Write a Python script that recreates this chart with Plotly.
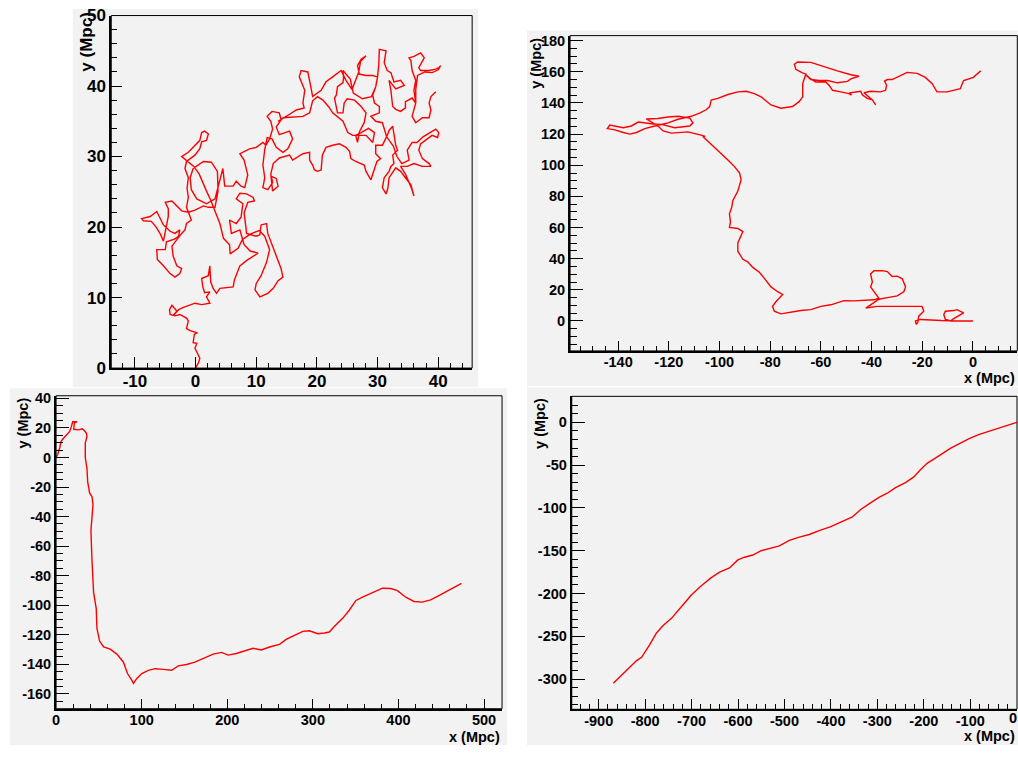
import plotly.graph_objects as go

# ---------------- DATA (Mpc) ----------------
# Panel 1 (top-left): tangled walk
p1_x = [0, 0.5, 0.7, 0.2, -0.1, 0.2, -0.4, -0.2, 0.3, -0.1, -0.9, -1.5, -1.2, -1.5, -2.6, -3.4, -4.2, -4.3, -3.9, -3.1, -3.7, -2.8, -2.0, -1.2, -0.1, 1.0, 2.35, 1.8, 2.35, 1.5, 1.2, 1.0, 2.1, 2.35, 2.5, 2.9, 3.45, 4.0, 5.1, 6.2, 6.4, 7.3, 8.5, 10.3,
        9.0, 8.0, 7.6, 7.3, 5.9, 5.6, 6.7, 7.5, 7.8, 6.7, 7.3, 8.4, 9.5, 9.7, 8.6, 8.0, 8.3, 8.4, 10.0, 10.6, 10.8, 11.7, 11.9, 12.5, 13.3, 14.1, 14.4, 13.6, 12.8, 11.9, 10.6, 9.8, 10.0, 10.8, 11.7, 12.2, 11.4, 10.5, 9.0, 7.7, 7.0, 5.7, 5.6, 4.6,
        4.0, 3.2, 2.5, 1.8, 0.6, -0.3, -1.5, -2.3, -1.2, -0.1, 0.7, 1.0, 1.5, 2.1, 1.8, 1.0, 0.7, -0.1, -1.5, -1.75, -1.2, -1.4, -1.2, -1.5, -0.7, -1.5, -1.75, -2.3, -3.1, -3.9, -3.7, -3.1, -2.3, -2.6, -3.4, -4.2, -5.3, -6.3, -6.4, -5.0, -4.8, -3.5, -2.8, -2.6, -3.4, -4.2, -5.3, -6.0, -6.4, -7.5, -8.9, -8.6, -7.3, -6.5, -5.8, -5.3, -5.0, -4.5, -4.5, -5.0, -3.9, -3.1, -2.3, -1.2, -0.1, 1.3, 2.1, 3.2, 3.7, 3.6, 2.6, 1.3, -0.4, -0.9, -0.7, 0.2, 1.8, 3.2, 3.9, 4.5, 4.8, 6.2, 6.7, 7.5, 8.1, 8.6, 8.0, 7.3,
        8.9, 10.0, 11.1, 11.6, 12.2, 12.7, 12.4, 11.8, 12.6, 13.8, 14.1, 13.3, 13.8, 15.5, 16.0, 15.2, 14.4, 13.3, 12.6, 11.8, 11.4, 11.1, 11.4, 11.1, 11.9, 12.7, 12.5, 13.3, 13.6, 12.7, 12.4, 12.8, 13.8, 15.5, 16.0, 17.7, 18.8, 18.8, 19.3, 19.6, 20.1, 20.7, 20.9, 21.5, 22.6, 23.7, 24.8, 25.4,
        25.6, 26.4, 27.8, 28.1, 28.9, 29.3, 29.9, 30.5, 29.7, 29.7, 30.8, 31.6, 31.9, 32.5, 33.0, 33.3, 32.5, 32.7, 32.2, 31.9, 31.1, 30.8, 31.4, 31.7, 31.9, 33.0, 33.8, 34.6, 35.5, 36.0, 35.6, 34.6, 33.8, 34.9, 36.0, 37.4, 38.8, 38.5, 37.4, 36.8, 37.1, 38.2, 39.0, 39.9, 40.1, 39.6, 38.9, 37.5, 36.5, 35.7, 34.9, 35.2, 34.0, 33.2, 32.6, 31.5, 30.8, 29.7, 28.9, 30.3, 30.3, 29.5, 29.2, 29.7, 30.0, 29.2, 28.1, 27.0, 26.7, 27.3, 28.1, 27.2, 26.9, 26.4, 25.8, 24.8, 24.0, 22.6, 21.5, 20.7, 19.3, 19.0, 18.5, 17.4, 17.1, 18.0, 17.7, 17.9, 17.4, 16.6, 15.5, 13.6, 14.5, 17.7, 18.8, 19.3, 20.1, 21.0, 22.0, 22.6, 24.3, 25.1, 25.9, 28.1, 29.2, 29.5, 28.5, 27.3, 26.4, 26.7, 27.0, 27.8, 28.1, 27.3, 26.2, 25.0, 24.5, 24.3, 23.4, 22.9, 23.2, 23.4, 24.3, 24.4, 24.3, 25.5, 26.0, 27.5, 29.0, 29.7, 30.0, 30.2, 30.3, 31.4, 31.1, 31.6, 32.2, 32.7, 33.8, 34.4, 33.0, 31.9, 32.2, 32.5, 33.0, 33.8, 34.6, 34.6, 35.7, 36.3, 36.0, 36.3, 35.7, 35.5, 35.2, 36.0, 37.1, 37.7, 37.1, 36.8, 37.1, 38.5, 39.6, 40.1, 40.4, 40.0, 39.0, 37.8, 36.6, 36.3, 36.3, 35.7, 36.3, 37.4, 38.5, 38.8, 38.5, 38.8, 39.6]
p1_y = [0, 0.8, 1.4, 2.3, 2.8, 3.5, 3.6, 4.8, 5.0, 5.1, 5.3, 5.6, 6.7, 7.1, 7.6, 7.4, 7.6, 8.3, 8.9, 8.1, 7.4, 8.3, 8.6, 8.9, 9.2, 9.0, 9.2, 10.1, 10.8, 10.7, 11.5, 12.7, 13.1, 14.5, 12.2, 11.3, 10.6, 11.3, 11.4, 11.5, 12.5, 14.5, 15.3, 16.3,
        16.6, 17.5, 18.7, 19.6, 19.1, 21.0, 20.5, 21.4, 23.3, 24.0, 24.8, 24.7, 24.2, 23.7, 23.5, 22.0, 20.0, 19.1, 18.7, 18.9, 20.3, 20.5, 19.1, 17.7, 15.9, 14.1, 12.9, 12.4, 11.3, 10.6, 10.1, 11.1, 12.0, 13.1, 15.0, 16.8, 18.7, 19.5, 19.0, 18.2, 17.0, 16.2, 17.5, 18.4,
        20.5, 22.4, 23.8, 25.1, 27.5, 28.6, 29.5, 30.0, 30.6, 31.6, 32.3, 33.4, 33.6, 33.2, 32.3, 32.1, 31.1, 30.2, 29.3, 28.3, 27.0, 25.5, 24.2, 22.8, 21.0, 20.5, 19.6, 19.1, 18.2, 17.3, 15.9, 14.5, 14.1, 13.4, 12.9, 13.4, 14.5, 15.4, 16.8, 16.8, 17.9, 18.3, 18.7, 19.6, 19.1, 19.4, 20.3, 21.6, 22.2, 21.5, 21.2, 20.9, 20.8, 20.0, 19.0, 18.0, 19.5, 21.5, 22.6, 23.5, 23.7, 23.0, 22.3, 22.1, 22.4, 23.0, 22.8, 22.8, 25.1, 27.9, 29.2, 29.3, 28.3, 27.0, 25.3, 24.0, 23.3, 24.0, 26.5, 28.3, 25.8, 25.8, 26.5, 25.8, 25.6, 27.4, 29.5, 30.4,
        31.1, 31.3, 32.0, 31.6, 32.5, 33.9, 35.0, 35.7, 36.4, 36.2, 35.2, 34.2, 33.1, 33.6, 32.5, 31.1, 30.6, 31.3, 32.5, 32.7, 31.0, 28.8, 27.0, 25.6, 25.3, 26.3, 27.2, 26.9, 25.8, 25.1, 27.5, 29.0, 29.8, 30.2, 29.5, 30.4, 30.6, 29.5, 28.8, 28.1, 27.9, 28.1, 30.2, 31.3, 31.6, 31.8, 31.3, 30.7,
        29.7, 29.3, 28.8, 27.9, 26.7, 27.8, 29.3, 29.7, 30.4, 31.6, 31.6, 33.0, 33.7, 34.3, 31.6, 30.9, 30.2, 29.0, 28.6, 27.9, 27.0, 25.6, 24.7, 25.5, 27.0, 28.4, 27.9, 27.0, 26.0, 24.4, 25.5, 27.5, 28.6, 28.6, 29.0, 28.6, 28.6, 29.0, 29.7, 30.9, 31.8, 32.5, 33.0, 32.7, 33.4, 33.9, 33.5, 32.8, 32.0, 32.0, 30.9, 29.5, 29.0, 30.0, 31.5, 32.8, 34.8, 35.0, 35.7, 36.2, 37.1, 37.6, 38.7, 39.9, 41.3, 41.5, 41.5, 41.7, 42.9, 43.8, 44.3, 43.5, 42.0, 40.8, 39.5, 40.8, 42.2, 41.3, 40.6, 39.4, 38.5, 39.9, 42.0, 42.2, 41.3, 39.4, 37.6, 36.9, 36.8, 36.6, 36.0, 35.0, 35.5, 35.7, 36.2, 37.9, 38.5, 38.0, 37.0, 36.2, 35.0, 33.4, 33.0, 33.0, 32.0, 33.4, 34.0, 33.4, 33.0, 32.0, 33.5, 34.8, 36.2, 37.1, 38.0, 38.2, 37.6, 36.2, 36.2, 38.3, 38.7, 39.9, 40.5, 41.2, 42.2, 41.0, 39.0, 38.2, 38.5, 39.9, 41.3, 43.0, 45.2, 45.0, 43.3, 42.2, 41.9, 40.6, 40.8, 40.1, 39.6, 40.8, 39.4, 37.1, 36.7, 36.4, 36.9, 37.8, 38.3, 37.6, 39.4, 40.8, 42.2, 43.6, 44.0, 44.2, 44.7, 44.0, 43.1, 42.6, 42.2, 42.2, 42.4, 42.6, 42.9, 42.3, 41.9, 42.0, 41.5, 39.5, 37.6, 35.7, 34.8, 35.5, 35.5, 36.6, 37.6, 38.5, 39.2]

# Panel 2 (top-right)
p2_x = [0, -4.5, -8.9, -7.6, -3.7, -6.3, -7.6, -10.9, -11.5, -10.9, -8.9, -12.5, -15.5, -20.7, -22.7, -22.4, -21.8, -21.4, -19.4, -20.1, -23.3, -29.9, -33.8, -37.8, -42.3, -39.1, -37.1, -33.8, -29.9, -27.3, -26.6, -27.9, -29.9, -31.9, -33.8, -35.8, -39.1, -40.4, -39.7, -40.4, -39.1, -37.1, -39.1, -43.0, -46.9, -50.9, -56.1, -60.0, -64.0, -67.9, -73.1, -75.8, -78.4, -79.1, -77.7, -76.4, -75.1, -77.1, -79.7, -81.7, -84.3, -86.9, -88.9, -90.8, -92.8, -92.8, -91.5, -90.8, -92.8, -96.1, -95.7, -96.1, -95.2, -94.8, -92.8, -91.5, -92.1, -94.1, -96.7, -99.4, -102.0, -104.6, -106.6, -105.7, -107.3,
        -112.5, -119.0, -122.3, -124.3, -128.9, -124.3, -120.3, -116.4, -111.8, -110.5, -111.8, -117.7, -122.9, -126.2, -132.1, -134.8, -138.0, -143.3, -144.3, -141.3, -138.0, -135.4, -132.8, -129.5, -125.6, -120.3, -116.4, -111.2, -107.9, -105.3, -103.9, -103.3, -100.7, -96.7, -92.8, -89.5, -86.3, -83.6, -79.7, -75.8, -71.2, -68.6, -67.2, -67.2, -66.6, -65.9, -67.5, -69.9, -70.5, -69.2, -64.0, -60.0, -53.5, -48.2, -45.0, -48.2, -49.5, -53.5, -57.4, -60.7, -64.0, -65.9, -64.0, -62.0, -58.1, -56.8, -55.4, -52.2, -48.9, -48.0, -48.5, -44.3, -43.6, -41.7, -39.7, -38.4, -39.7, -43.0, -40.4, -36.5, -34.5, -34.1, -34.9, -33.8, -31.9, -28.6, -26.0, -22.0, -18.8, -16.1, -14.2, -10.2, -5.0, -3.7, -1.7, 0.2, 1.6, 3.1]
p2_y = [0, 0, 0, 1.5, 5.2, 7.3, 6.7, 6.3, 4.2, 1.0, 0.2, 0.3, 0.4, 1.0, 0, -2.1, -1.0, 3.1, 6.3, 9.4, 9.4, 9.4, 9.8, 9.4, 8.3, 11.5, 14.0, 15.0, 16.1, 18.8, 21.9, 27.1, 28.8, 28.6, 31.7, 32.3, 32.3, 30.2, 25.0, 21.9, 18.8, 14.6, 13.6, 13.1, 12.9, 13.1, 10.4, 9.4, 7.3, 6.7, 5.6, 4.6, 6.3, 9.4, 12.5, 14.6, 17.1, 18.8, 21.9, 26.1, 31.3, 34.4, 38.0, 39.6, 44.8, 50.1, 54.2, 57.4, 59.4, 60.1, 63.6, 68.8, 73.0, 77.2, 83.4, 90.7, 94.9, 99.1, 103.3, 107.4, 111.6, 115.8, 118.5, 118.5, 119.3,
        121.4, 120.6, 122.0, 125.2, 129.7, 130.0, 131.0, 131.4, 130.3, 127.2, 125.2, 124.1, 126.2, 126.5, 127.7, 125.2, 124.1, 125.8, 123.5, 122.7, 121.0, 120.0, 121.0, 123.5, 125.2, 127.2, 129.5, 131.4, 133.5, 135.6, 137.6, 141.9, 142.9, 145.4, 147.1, 147.5, 146.0, 143.9, 138.7, 136.6, 137.7, 140.8, 143.9, 152.3, 155.4, 158.5, 159.5, 161.6, 164.8, 166.3, 166.0, 163.8, 160.6, 158.1, 157.1, 155.4, 153.8, 152.9, 154.4, 154.4, 155.0, 158.0, 155.4, 153.4, 153.4, 151.3, 148.1, 147.1, 146.0, 145.0, 146.5, 147.5, 145.0, 142.9, 141.9, 138.7, 141.9, 146.5, 147.5, 147.1, 148.1, 151.3, 154.0, 155.0, 155.0, 157.5, 159.6, 159.0, 156.4, 152.3, 147.1, 147.1, 149.1, 154.4, 155.4, 156.4, 158.5, 160.6]

# Panel 3 (bottom-left)
p3_x = [0, 1.9, 4.3, 5.8, 8.9, 12.8, 15.9, 17.8, 19.4, 22.5, 24.4, 21.3, 20.6, 26.4, 30.3, 33.0, 35.3, 36.1, 34.1, 34.1, 36.1, 36.9, 39.2, 41.9, 43.1, 41.9, 40.7, 41.9, 43.8, 46.9, 47.7, 50.8, 55.5, 63.2, 71.0, 78.7, 83.4, 88.4, 90.4, 94.3, 100.1, 107.8, 115.6, 125.3, 135.0, 142.7, 152.4, 162.1, 173.7, 183.5, 193.2, 201.0, 210.6, 220.3, 230.0, 239.7, 249.4, 261.0, 268.8, 278.5, 288.2, 296.0, 305.7, 313.4, 319.2, 325.0, 334.8, 342.5, 350.3, 358.0, 369.7, 381.3, 391.0, 398.8, 408.5, 418.2, 427.9, 437.5, 447.2, 458.9, 473.6]
p3_y = [0, 2.2, 6.6, 11.0, 13.2, 15.4, 17.6, 20.9, 24.2, 24.2, 24.2, 23.5, 19.1, 18.7, 19.4, 18.3, 16.5, 14.3, 9.9, 0, -7.7, -16.5, -24.2, -26.4, -31.9, -40.7, -49.5, -69.3, -91.3, -102.3, -115.5, -124.3, -128.3, -129.8, -133.1, -138.6, -146.3, -150.7, -152.9, -149.6, -146.3, -144.1, -143.0, -143.5, -144.1, -141.1, -140.2, -138.6, -135.8, -133.1, -132.0, -133.8, -132.7, -130.9, -129.2, -130.3, -128.3, -126.5, -123.2, -120.4, -117.7, -117.3, -119.3, -118.8, -118.2, -114.4, -108.9, -103.4, -96.8, -94.6, -91.3, -88.5, -88.7, -90.2, -94.6, -97.5, -97.9, -96.4, -93.5, -89.6, -85.2]

# Panel 4 (bottom-right)
p4_x = [0, -17.9, -39.3, -60.8, -82.2, -103.6, -121.5, -143.0, -164.4, -193.0, -207.3, -221.6, -239.5, -260.9, -278.8, -296.6, -318.1, -335.9, -353.8, -375.3, -400.3, -425.3, -446.7, -468.2, -489.6, -511.1, -532.5, -550.4, -568.3, -586.1, -600.4, -618.3, -639.7, -657.6, -679.1, -700.5, -718.4, -729.1, -743.4, -761.3, -775.6, -789.8, -807.7, -818.4, -836.3, -854.2, -868.5]
p4_y = [0, -3.0, -6.8, -10.6, -14.4, -19.4, -24.0, -30.4, -38.0, -47.9, -55.4, -63.8, -70.3, -76.3, -82.8, -87.7, -95.3, -101.8, -110.5, -115.8, -121.9, -126.5, -131.0, -134.1, -137.9, -144.3, -147.4, -150.0, -155.0, -157.6, -160.7, -170.1, -175.1, -181.5, -191.0, -201.7, -213.1, -219.5, -229.0, -237.4, -246.1, -259.4, -274.6, -278.4, -287.9, -296.6, -305.0]

# Tick values / labels
p1_xticks = [-10, 0, 10, 20, 30, 40]
p1_yticks = [0, 10, 20, 30, 40, 50]
p2_xticks = [-140, -120, -100, -80, -60, -40, -20, 0]
p2_yticks = [0, 20, 40, 60, 80, 100, 120, 140, 160, 180]
p3_xticks = [0, 100, 200, 300, 400, 500]
p3_yticks = [40, 20, 0, -20, -40, -60, -80, -100, -120, -140, -160]
p4_xticks = [-900, -800, -700, -600, -500, -400, -300, -200, -100, 0]
p4_yticks = [0, -50, -100, -150, -200, -250, -300]

AXIS_TITLE_X = "x (Mpc)"
AXIS_TITLE_Y = "y (Mpc)"

# ---------------- FIGURE ----------------
W, H = 1018, 758
PAD = "#f2f2f2"
FONT = "Liberation Sans"


def fx(px):
    return px / W


def fy(py):
    return 1 - py / H


panels = [
    dict(data=(p1_x, p1_y), pad=(69, 0, 476, 388), box=(107.7, 6.7, 470, 368.3),
         xr=[-13.9, 45.6], yr=[0, 50], xt=p1_xticks, yt=p1_yticks, xm=2, ym=2, fs=17,
         tlx=11, tly=11),
    dict(data=(p2_x, p2_y), pad=(525, 22, 1018, 387), box=(568.3, 27.3, 1017.3, 350.7),
         xr=[-159, 17.5], yr=[-19.2, 183.2], xt=p2_xticks, yt=p2_yticks, xm=5, ym=5, fs=14.5,
         tlx=10, tly=13),
    dict(data=(p3_x, p3_y), pad=(6, 389, 505, 755), box=(52.3, 396.7, 500, 717.7),
         xr=[0, 521], yr=[-170.1, 41.8], xt=p3_xticks, yt=p3_yticks, xm=20, ym=5, fs=14.5,
         tlx=10, tly=13),
    dict(data=(p4_x, p4_y), pad=(525, 388, 1018, 755), box=(570, 397.3, 1017, 718.3),
         xr=[-958, 0.6], yr=[-335.3, 30.4], xt=p4_xticks, yt=p4_yticks, xm=20, ym=10, fs=14.5,
         tlx=10, tly=13),
]

fig = go.Figure()
shapes = []
layout = dict(
    width=W, height=H,
    margin=dict(l=0, r=0, t=0, b=0),
    paper_bgcolor="white",
    plot_bgcolor=PAD,
    showlegend=False,
)

for i, p in enumerate(panels, start=1):
    xs, ys = p["data"]
    sfx = "" if i == 1 else str(i)
    fig.add_trace(go.Scatter(x=xs, y=ys, mode="lines",
                             line=dict(color="#ff0000", width=1.4),
                             xaxis="x" + sfx, yaxis="y" + sfx, hoverinfo="skip"))
    x0, y0, x1, y1 = p["pad"]
    shapes.append(dict(type="rect", xref="paper", yref="paper", layer="below",
                       x0=fx(x0), x1=fx(x1), y0=fy(y1), y1=fy(y0),
                       fillcolor=PAD, line=dict(width=0)))
    bx0, by0, bx1, by1 = p["box"]
    tf = dict(family=FONT, size=p["fs"], color="black", weight="bold")
    layout["xaxis" + sfx] = dict(
        domain=[fx(bx0), fx(bx1)], range=p["xr"], anchor="y" + sfx,
        showgrid=False, zeroline=False, showline=True, linewidth=2, linecolor="black",
        ticks="inside", ticklen=p["tlx"], tickwidth=1, tickcolor="black",
        tickmode="array", tickvals=p["xt"], ticktext=[str(v) for v in p["xt"]],
        tickfont=tf, fixedrange=True, ticklabelstandoff=-3,
        minor=dict(dtick=p["xm"], tick0=0, ticks="inside", ticklen=p["tlx"] / 2,
                   tickwidth=1, tickcolor="black", showgrid=False),
    )
    layout["yaxis" + sfx] = dict(
        domain=[fy(by1), fy(by0)], range=p["yr"], anchor="x" + sfx,
        showgrid=False, zeroline=False, showline=True, linewidth=2, linecolor="black",
        ticks="inside", ticklen=p["tly"], tickwidth=1, tickcolor="black",
        tickmode="array", tickvals=p["yt"], ticktext=[str(v) for v in p["yt"]],
        tickfont=tf, fixedrange=True,
        minor=dict(dtick=p["ym"], tick0=0, ticks="inside", ticklen=p["tly"] / 2,
                   tickwidth=1, tickcolor="black", showgrid=False),
    )
    shapes.append(dict(type="rect", xref="x" + sfx + " domain", yref="y" + sfx + " domain",
                       x0=0, x1=1, y0=0, y1=1, line=dict(color="black", width=1), layer="above"))

layout["shapes"] = shapes

ann = []
ytitles = [(83, 1, 17), (534, 27, 14.5), (19, 396, 14.5), (537.5, 397, 14.5)]
for (cx, top, fs) in ytitles:
    ann.append(dict(text=AXIS_TITLE_Y, xref="paper", yref="paper", x=fx(cx), y=fy(top),
                    xanchor="center", yanchor="top", textangle=-90, showarrow=False,
                    font=dict(family=FONT, size=fs, color="black", weight="bold")))
xtitles = [(1017, 378), (500, 747), (1017, 746)]
for (rx, cy) in xtitles:
    ann.append(dict(text=AXIS_TITLE_X, xref="paper", yref="paper", x=fx(rx), y=fy(cy),
                    xanchor="right", yanchor="middle", showarrow=False,
                    font=dict(family=FONT, size=14.5, color="black", weight="bold")))
# last x tick label of the bottom-right panel sits on the right edge of the page
ann.append(dict(text=str(p4_xticks[-1]), xref="paper", yref="paper", x=1.0, y=fy(727),
                xanchor="right", yanchor="middle", showarrow=False, borderpad=0,
                font=dict(family=FONT, size=14.5, color="black", weight="bold")))
layout["annotations"] = ann

fig.update_layout(**layout)
# the page's default 8px body margin would shift the figure; remove it
fig.write_html("out.html", config={"displayModeBar": False},
               post_script="document.body.style.margin='0';document.body.style.overflow='hidden';")
